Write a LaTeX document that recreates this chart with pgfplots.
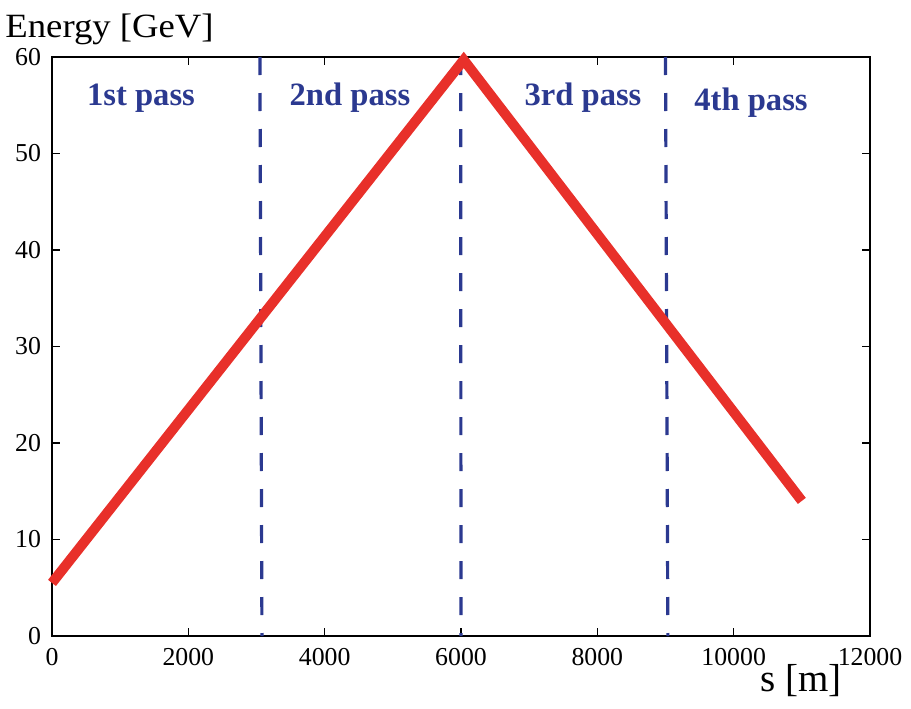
\documentclass[border=0pt]{standalone}
\usepackage{pgfplots}
\pgfplotsset{compat=1.18}
\usepackage{graphicx}
\usepackage{fontspec}
\setmainfont{Liberation Serif}
\definecolor{myred}{RGB}{232,48,42}
\definecolor{myblue}{RGB}{43,57,144}
\begin{document}
\begin{tikzpicture}
\begin{axis}[name=ax, scale only axis, width=409pt, height=289.5pt,
  xmin=0, xmax=12000, ymin=0, ymax=60,
  xtick={0,2000,...,12000}, ytick={0,10,...,60},
  tick align=inside, major tick length=4pt,
  axis line style={line width=0.8pt},
  every tick/.style={black, line width=0.8pt},
  tick label style={font=\fontsize{12.9}{14}\selectfont},
  /pgf/number format/assume math mode=true,
  scaled x ticks=false,
  xticklabel style={/pgf/number format/1000 sep={}, yshift=-2.5pt},
  yticklabel style={xshift=-2pt},
  clip=false,
]
\addplot[myblue, line width=1.6pt, dash pattern=on 9pt off 9pt] coordinates {(3050,60) (3080,0)};
\addplot[myblue, line width=1.6pt, dash pattern=on 9pt off 9pt] coordinates {(5995,60) (6000,0)};
\addplot[myblue, line width=1.6pt, dash pattern=on 9pt off 9pt] coordinates {(9000,60) (9035,0)};
\addplot[myred, line width=5pt] coordinates {(0,5.5) (6040,59.7) (11000,14)};
\node[anchor=base, text=myblue, font=\fontsize{16.3}{18}\selectfont\bfseries] at (axis cs:1306,55) {1st pass};
\node[anchor=base, text=myblue, font=\fontsize{16.3}{18}\selectfont\bfseries] at (axis cs:4371,55) {2nd pass};
\node[anchor=base, text=myblue, font=\fontsize{16.3}{18}\selectfont\bfseries] at (axis cs:7790,55) {3rd pass};
\node[anchor=base, text=myblue, font=\fontsize{16.3}{18}\selectfont\bfseries] at (axis cs:10255,54.5) {4th pass};
\end{axis}
\node[anchor=base west, inner sep=0pt, font=\fontsize{17}{20}\selectfont] at ([xshift=-23.5pt,yshift=10pt]ax.north west) {\scalebox{1.08}[1]{Energy [GeV]}};
\node[anchor=base west, inner sep=0pt, font=\fontsize{19.5}{22}\selectfont] at ([xshift=-55pt,yshift=-27.5pt]ax.south east) {s [m]};
\pgfresetboundingbox
\path (ax.south west) ++(-26pt,-36pt) rectangle ++(455.5pt,354pt);
\end{tikzpicture}
\end{document}
